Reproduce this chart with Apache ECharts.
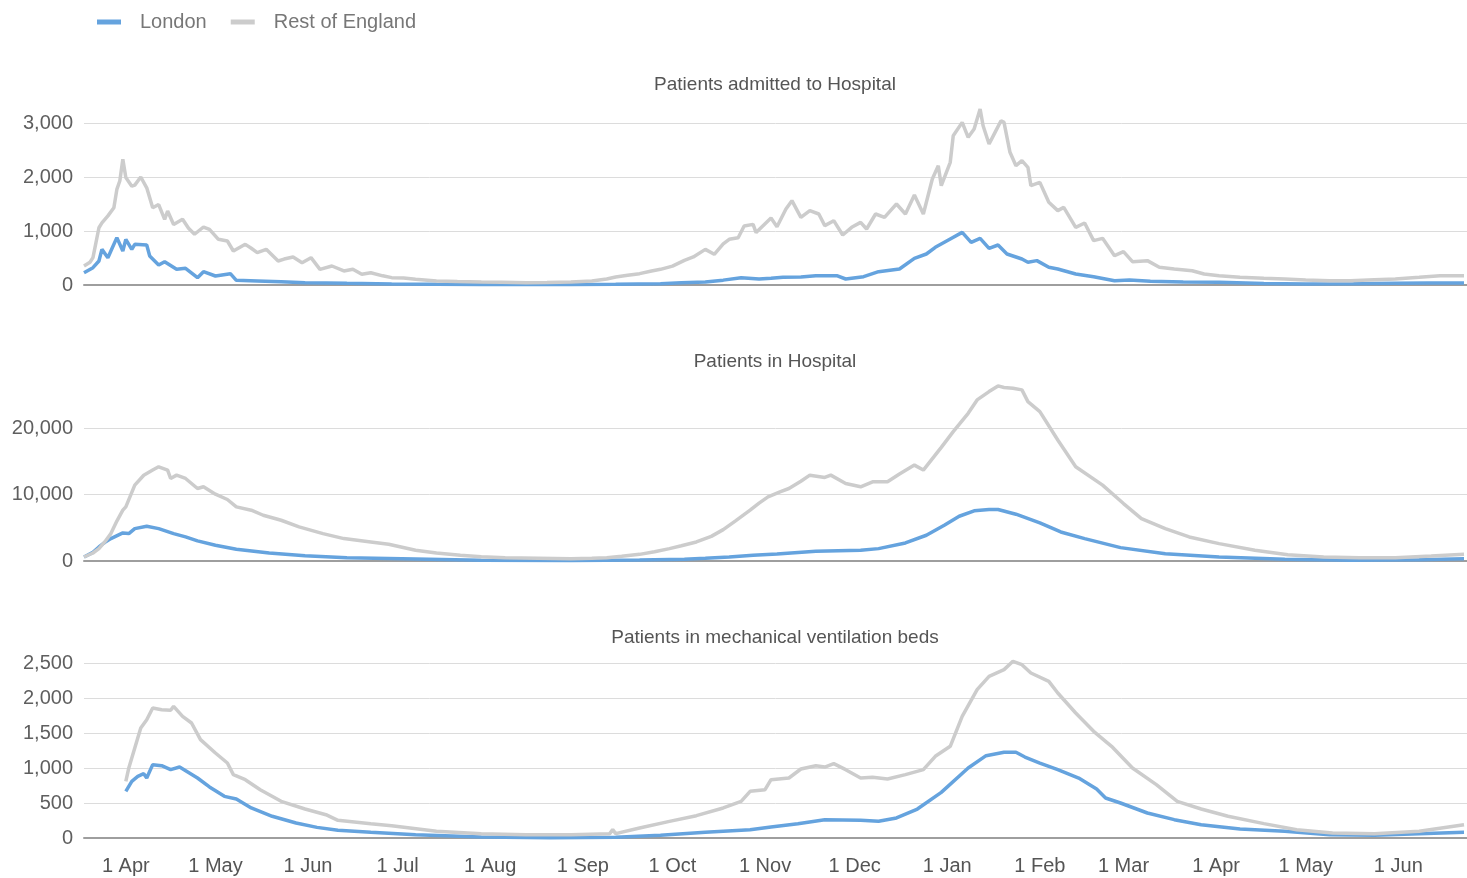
<!DOCTYPE html>
<html>
<head>
<meta charset="utf-8">
<title>London vs Rest of England - hospital patients</title>
<script src="https://cdn.jsdelivr.net/npm/echarts@6/dist/echarts.min.js"></script>
<style>
  html, body { margin: 0; padding: 0; background: #fff; }
  #chart { width: 1467px; height: 878px; }
</style>
</head>
<body>
<div id="chart"></div>
<script>
// x values are day numbers, day 0 = 18 Mar 2020
const startDate = Date.UTC(2020, 2, 18);
const dayCount = 464;
const monthNames = ['Jan', 'Feb', 'Mar', 'Apr', 'May', 'Jun', 'Jul', 'Aug', 'Sep', 'Oct', 'Nov', 'Dec'];

const seriesNames = ['London', 'Rest of England'];
const panelTitles = ['Patients admitted to Hospital', 'Patients in Hospital', 'Patients in mechanical ventilation beds'];
const axisMax = [3000, 20000, 2500];
const axisStep = [1000, 10000, 500];

// Patients admitted to hospital
const admitLondon = [[0,228],[3,321],[5,444],[6,660],[8,506],[9,630],[11,877],[13,630],[14,846],[16,660],[17,753],[21,741],[22,537],[25,370],[27,432],[31,290],[34,309],[38,136],[40,247],[44,167],[49,210],[51,86],[58,74],[66,60],[74,43],[88,31],[103,20],[118,12],[133,10],[148,8],[163,10],[178,12],[193,25],[200,40],[208,56],[214,90],[220,136],[226,110],[230,123],[234,142],[240,150],[245,173],[252,173],[255,111],[261,154],[266,247],[273,296],[278,494],[282,574],[285,698],[290,852],[294,975],[297,790],[300,864],[303,679],[306,741],[309,574],[314,481],[316,420],[319,451],[323,327],[326,296],[332,204],[338,154],[345,80],[350,93],[357,68],[368,55],[380,49],[395,30],[409,19],[425,25],[439,31],[450,35],[462,37]];
const admitRest = [[0,350],[2,420],[3,506],[5,1060],[6,1150],[8,1280],[10,1430],[11,1770],[12,1930],[13,2330],[14,1990],[16,1830],[17,1850],[19,2000],[21,1800],[23,1430],[25,1490],[27,1216],[28,1370],[30,1120],[33,1216],[35,1050],[37,940],[40,1074],[42,1030],[45,846],[48,815],[50,630],[54,753],[56,680],[58,600],[61,660],[65,444],[67,480],[70,518],[73,413],[76,506],[79,290],[83,352],[87,260],[90,290],[93,198],[96,228],[100,170],[103,136],[107,130],[111,105],[115,90],[118,74],[125,65],[133,56],[140,50],[148,43],[155,45],[163,56],[170,74],[175,110],[178,148],[182,180],[186,210],[190,260],[193,290],[197,350],[201,457],[204,520],[208,660],[211,568],[214,760],[216,846],[219,876],[221,1093],[224,1123],[225,970],[230,1240],[232,1080],[235,1407],[237,1562],[240,1253],[243,1377],[246,1315],[248,1099],[251,1191],[254,926],[257,1068],[260,1160],[262,1037],[265,1315],[268,1253],[270,1377],[272,1500],[275,1315],[278,1667],[281,1315],[284,1963],[286,2210],[287,1840],[290,2272],[291,2765],[294,3012],[296,2735],[298,2889],[300,3259],[301,2950],[303,2611],[305,2827],[307,3043],[308,3012],[310,2457],[312,2210],[314,2302],[316,2179],[317,1840],[320,1901],[323,1531],[326,1377],[328,1438],[332,1068],[335,1148],[338,821],[341,864],[345,543],[348,617],[351,432],[356,451],[360,327],[365,296],[371,265],[375,204],[380,173],[387,142],[395,123],[402,111],[409,93],[417,80],[424,80],[432,99],[439,111],[447,142],[454,173],[462,173]];

// Patients in hospital
const hospLondon = [[0,603],[3,1300],[5,2110],[7,2800],[9,3370],[13,4220],[15,4120],[17,4870],[21,5230],[25,4870],[30,4120],[34,3620],[38,3020],[44,2360],[51,1760],[62,1210],[74,800],[88,500],[111,300],[133,100],[163,60],[186,150],[201,250],[208,400],[216,600],[224,850],[232,1050],[245,1460],[260,1610],[266,1860],[275,2710],[282,3870],[288,5380],[293,6730],[298,7540],[303,7740],[306,7740],[312,7040],[320,5730],[327,4370],[335,3370],[347,2010],[362,1100],[380,600],[402,250],[424,100],[447,200],[462,350]];
const hospRest = [[0,603],[3,1200],[5,1860],[7,2900],[9,4120],[11,6000],[13,7640],[14,8140],[17,11400],[20,12900],[23,13670],[25,14170],[28,13670],[29,12410],[31,12910],[34,12410],[38,10900],[40,11160],[44,10050],[48,9250],[51,8140],[56,7640],[60,6880],[66,6130],[72,5130],[80,4120],[87,3370],[96,2860],[102,2510],[111,1610],[118,1200],[126,854],[133,650],[141,500],[152,420],[163,350],[170,400],[175,500],[180,700],[186,1000],[191,1400],[196,1860],[200,2300],[205,2860],[210,3700],[214,4720],[218,6000],[223,7640],[226,8700],[229,9650],[233,10400],[236,10900],[240,12000],[243,12910],[248,12560],[250,12910],[255,11660],[260,11160],[264,11910],[269,11910],[273,13070],[278,14420],[281,13670],[287,17090],[291,19450],[296,22210],[299,24220],[303,25480],[306,26330],[308,26100],[311,25980],[314,25730],[316,23970],[320,22460],[326,18190],[332,14170],[341,11410],[348,8640],[354,6380],[362,4870],[370,3620],[380,2610],[392,1610],[403,955],[415,600],[427,500],[439,500],[451,750],[462,1000]];

// Patients in mechanical ventilation beds
const ventLondon = [[14,667],[16,810],[18,881],[20,919],[21,857],[23,1048],[26,1033],[29,976],[32,1014],[38,857],[42,729],[47,595],[51,557],[56,429],[63,310],[71,214],[78,152],[85,110],[96,81],[111,48],[133,14],[156,5],[178,10],[193,38],[208,81],[223,119],[230,157],[239,205],[248,262],[260,252],[266,238],[272,286],[279,414],[287,652],[296,1000],[302,1176],[308,1224],[312,1224],[315,1157],[320,1071],[326,976],[333,857],[339,700],[342,571],[347,500],[356,357],[365,262],[374,190],[387,129],[402,95],[417,48],[432,38],[447,62],[462,81]];
const ventRest = [[14,810],[15,1000],[17,1286],[19,1571],[21,1690],[23,1857],[26,1833],[29,1824],[30,1881],[33,1738],[36,1643],[39,1405],[44,1214],[48,1071],[50,905],[54,833],[59,690],[66,524],[74,414],[81,333],[85,252],[96,205],[103,176],[118,95],[133,62],[148,48],[163,48],[176,62],[177,119],[178,62],[186,143],[196,238],[205,319],[214,429],[220,524],[223,667],[228,690],[230,833],[236,857],[240,986],[245,1033],[248,1014],[251,1062],[255,976],[260,857],[264,867],[269,843],[275,905],[281,976],[285,1167],[290,1310],[294,1738],[299,2119],[303,2310],[308,2405],[311,2524],[314,2476],[317,2357],[323,2238],[326,2071],[332,1786],[338,1524],[344,1310],[351,1000],[359,762],[366,524],[374,414],[383,310],[395,205],[406,119],[418,71],[432,62],[447,95],[462,190]];

const panels = [
  [admitLondon, admitRest],
  [hospLondon, hospRest],
  [ventLondon, ventRest]
];

const dates = [];
for (let i = 0; i < dayCount; i++) {
  const d = new Date(startDate + i * 86400000);
  dates.push(d.toISOString().slice(0, 10));
}

const colors = ['#65a3de', '#cccccc'];
const font = 'Liberation Sans, Arial, sans-serif';
const gridBoxes = [
  { top: 123, height: 162 },
  { top: 428, height: 133 },
  { top: 663, height: 175 }
];
const titleTops = [75, 352, 628];

function withCommas(v) {
  return String(v).replace(/\B(?=(\d{3})+(?!\d))/g, ',');
}

const series = [];
panels.forEach((pair, p) => {
  pair.forEach((data, s) => {
    series.push({
      name: seriesNames[s],
      type: 'line',
      xAxisIndex: p,
      yAxisIndex: p,
      data: data,
      showSymbol: false,
      clip: false,
      lineStyle: { color: colors[s], width: 3.5 },
      itemStyle: { color: colors[s] }
    });
  });
});

const option = {
  backgroundColor: '#fff',
  animation: false,
  textStyle: { fontFamily: font },
  legend: {
    left: 97,
    top: 7,
    padding: 0,
    icon: 'rect',
    itemWidth: 24,
    itemHeight: 5,
    itemGap: 24,
    data: seriesNames,
    textStyle: { color: '#777', fontSize: 20, lineHeight: 30, padding: [0, 0, 0, 14], fontFamily: font }
  },
  title: panelTitles.map((t, i) => ({
    text: t,
    left: 775,
    top: titleTops[i],
    textAlign: 'center',
    padding: 0,
    textStyle: { color: '#555', fontSize: 19, fontWeight: 'normal', fontFamily: font }
  })),
  grid: gridBoxes.map(g => ({ left: 84, right: 0, top: g.top, height: g.height })),
  xAxis: gridBoxes.map((g, i) => ({
    type: 'category',
    gridIndex: i,
    data: dates,
    boundaryGap: false,
    axisLine: { lineStyle: { color: '#9e9e9e', width: 2 } },
    axisTick: { show: false },
    splitLine: { show: false },
    axisLabel: {
      show: i === 2,
      interval: (idx, val) => val.slice(8) === '01',
      formatter: val => Number(val.slice(8)) + ' ' + monthNames[Number(val.slice(5, 7)) - 1],
      color: '#555',
      fontSize: 20,
      margin: 18,
      fontFamily: font
    }
  })),
  yAxis: gridBoxes.map((g, i) => ({
    type: 'value',
    gridIndex: i,
    min: 0,
    max: axisMax[i],
    interval: axisStep[i],
    axisLine: { show: false },
    axisTick: { show: false },
    splitLine: { lineStyle: { color: '#dcdcdc', width: 1 } },
    axisLabel: {
      formatter: withCommas,
      color: '#5f5f5f',
      fontSize: 20,
      margin: 11,
      fontFamily: font
    }
  })),
  series: series
};

echarts.init(document.getElementById('chart')).setOption(option);
</script>
</body>
</html>
